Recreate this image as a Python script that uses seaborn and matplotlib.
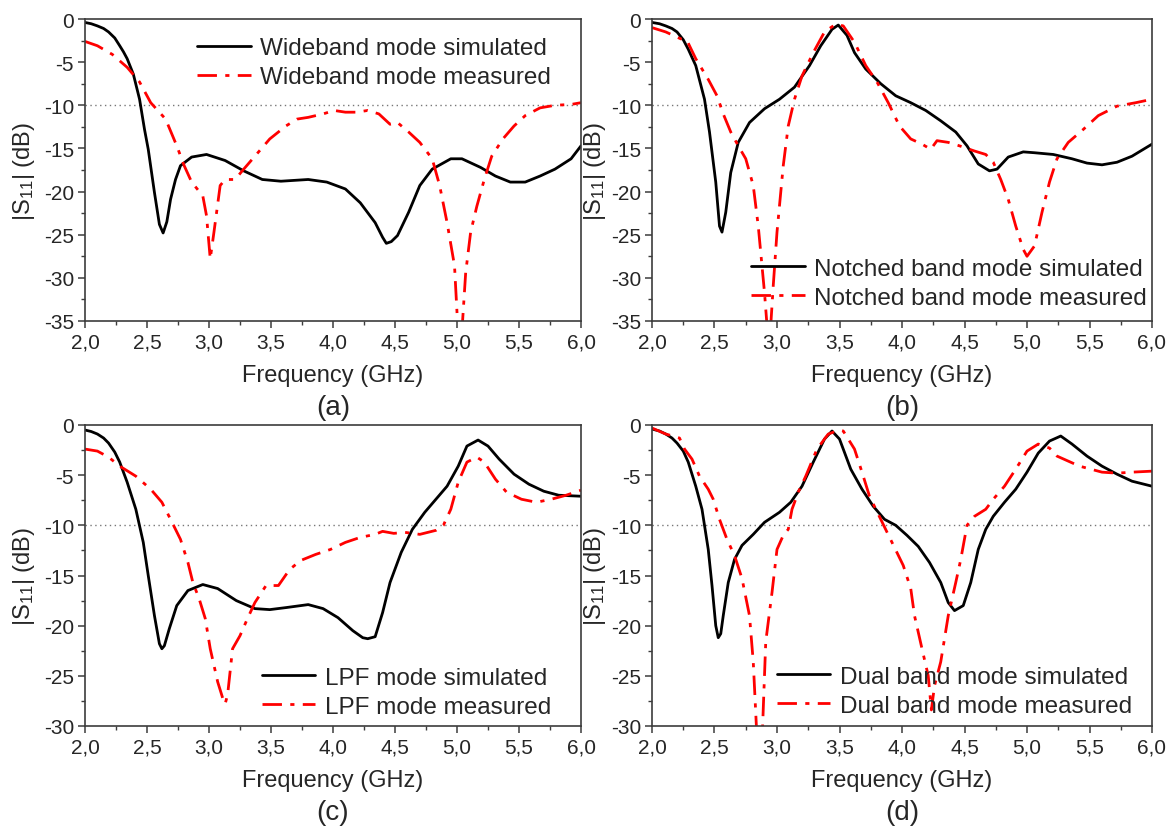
import matplotlib
matplotlib.use('Agg')
import matplotlib.pyplot as plt
import seaborn as sns
from matplotlib.ticker import MultipleLocator, FuncFormatter

# (a) Wideband mode
freq_a_sim = [2.00, 2.05, 2.10, 2.15, 2.19, 2.24, 2.28, 2.31, 2.34, 2.39, 2.44, 2.48, 2.51, 2.56, 2.60, 2.63, 2.66,
              2.69, 2.73, 2.77, 2.86, 2.98, 3.13, 3.28, 3.43, 3.58, 3.80, 3.95, 4.10, 4.22, 4.34, 4.40, 4.43, 4.47,
              4.52, 4.61, 4.70, 4.80, 4.95, 5.04, 5.19, 5.31, 5.43, 5.55, 5.67, 5.79, 5.92, 6.00]
s11_a_sim = [-0.4, -0.55, -0.8, -1.1, -1.5, -2.2, -3.1, -3.8, -4.6, -6.4, -9.3, -12.8, -15.1, -20.1, -23.8, -24.8,
             -23.5, -20.9, -18.6, -17.0, -16.0, -15.7, -16.4, -17.6, -18.6, -18.8, -18.6, -18.9, -19.7, -21.3, -23.6,
             -25.3, -26.0, -25.8, -25.1, -22.4, -19.3, -17.4, -16.2, -16.2, -17.2, -18.2, -18.9, -18.9, -18.2, -17.4,
             -16.2, -14.7]
freq_a_meas = [2.00, 2.10, 2.22, 2.34, 2.44, 2.53, 2.65, 2.74, 2.80, 2.86, 2.95, 2.98, 3.01, 3.04, 3.09, 3.13, 3.21,
               3.28, 3.37, 3.49, 3.62, 3.71, 3.80, 3.92, 4.01, 4.10, 4.19, 4.28, 4.37, 4.46, 4.52, 4.61, 4.70, 4.80,
               4.86, 4.92, 4.98, 5.00, 5.02, 5.045, 5.07, 5.11, 5.16, 5.22, 5.28, 5.37, 5.46, 5.55, 5.67, 5.79, 5.92,
               6.00]
s11_a_meas = [-2.6, -3.1, -4.1, -5.6, -7.3, -9.7, -11.6, -14.7, -17.0, -18.9, -20.5, -22.8, -27.8, -24.7, -19.3,
              -18.6, -18.6, -17.4, -15.9, -13.9, -12.4, -11.6, -11.4, -11.0, -10.6, -10.8, -10.8, -10.6, -11.0, -12.2,
              -12.0, -13.1, -14.3, -16.2, -19.3, -23.6, -28.6, -34.0, -38.0, -35.0, -29.4, -24.7, -21.7, -18.6, -15.9,
              -13.9, -12.4, -11.2, -10.3, -10.0, -9.9, -9.7]

# (b) Notched band mode
freq_b_sim = [2.00, 2.06, 2.11, 2.16, 2.20, 2.25, 2.29, 2.35, 2.42, 2.46, 2.51, 2.54, 2.56, 2.59, 2.63, 2.69, 2.78,
              2.90, 3.02, 3.14, 3.26, 3.35, 3.44, 3.49, 3.56, 3.62, 3.71, 3.83, 3.95, 4.07, 4.19, 4.31, 4.43, 4.52,
              4.61, 4.70, 4.76, 4.85, 4.97, 5.06, 5.21, 5.36, 5.48, 5.60, 5.72, 5.84, 6.00]
s11_b_sim = [-0.4, -0.55, -0.8, -1.1, -1.5, -2.4, -3.5, -5.4, -9.3, -13.1, -18.9, -24.0, -24.7, -22.4, -17.8, -14.3,
             -12.0, -10.4, -9.3, -7.9, -5.4, -3.1, -1.2, -0.7, -1.9, -3.9, -5.8, -7.5, -8.9, -9.7, -10.6, -11.8,
             -13.1, -14.7, -16.8, -17.6, -17.4, -16.0, -15.4, -15.5, -15.7, -16.2, -16.7, -16.9, -16.6, -15.9, -14.5]
freq_b_meas = [2.00, 2.11, 2.23, 2.28, 2.35, 2.45, 2.52, 2.57, 2.63, 2.69, 2.75, 2.81, 2.85, 2.90, 2.92, 2.935, 2.95,
               2.97, 3.00, 3.05, 3.09, 3.14, 3.20, 3.29, 3.38, 3.47, 3.53, 3.62, 3.71, 3.80, 3.89, 3.98, 4.07, 4.16,
               4.23, 4.28, 4.37, 4.46, 4.58, 4.67, 4.73, 4.79, 4.85, 4.91, 4.97, 5.00, 5.06, 5.12, 5.18, 5.24, 5.33,
               5.45, 5.57, 5.72, 5.87, 6.00]
s11_b_meas = [-1.0, -1.5, -2.3, -2.5, -4.6, -7.0, -8.9, -11.0, -13.1, -14.7, -16.2, -19.3, -24.0, -31.7, -35.5, -37.0,
              -35.5, -30.9, -24.7, -17.0, -12.4, -9.3, -6.6, -3.9, -1.5, -0.6, -0.8, -2.7, -5.4, -7.3, -9.7, -12.4,
              -13.9, -14.5, -15.1, -14.1, -14.3, -14.7, -15.3, -15.7, -16.6, -18.6, -20.9, -24.0, -26.7, -27.5, -26.3,
              -22.4, -18.9, -16.2, -14.3, -12.8, -11.2, -10.1, -9.7, -9.3]

# (c) LPF mode
freq_c_sim = [2.00, 2.05, 2.10, 2.15, 2.19, 2.24, 2.28, 2.34, 2.41, 2.47, 2.51, 2.56, 2.60, 2.62, 2.64, 2.68, 2.74,
              2.83, 2.95, 3.07, 3.22, 3.37, 3.49, 3.62, 3.80, 3.92, 4.04, 4.16, 4.24, 4.28, 4.34, 4.40, 4.46, 4.55,
              4.64, 4.74, 4.83, 4.92, 5.01, 5.08, 5.17, 5.25, 5.34, 5.46, 5.58, 5.70, 5.82, 6.00]
s11_c_sim = [-0.5, -0.65, -0.9, -1.3, -1.8, -2.7, -3.7, -5.7, -8.4, -11.7, -15.0, -19.0, -21.8, -22.3, -22.0, -20.3,
             -18.0, -16.5, -15.9, -16.3, -17.5, -18.3, -18.4, -18.2, -17.9, -18.3, -19.2, -20.5, -21.2, -21.3, -21.1,
             -18.7, -15.7, -12.7, -10.4, -8.7, -7.4, -6.1, -4.1, -2.1, -1.5, -2.1, -3.4, -4.9, -5.9, -6.6, -7.0, -7.1]
freq_c_meas = [2.00, 2.10, 2.19, 2.28, 2.41, 2.53, 2.62, 2.69, 2.77, 2.83, 2.87, 2.92, 2.97, 3.01, 3.07, 3.12, 3.13,
               3.15, 3.19, 3.25, 3.31, 3.37, 3.46, 3.56, 3.65, 3.74, 3.86, 3.98, 4.10, 4.22, 4.34, 4.40, 4.49, 4.58,
               4.70, 4.83, 4.89, 4.95, 5.01, 5.08, 5.16, 5.22, 5.31, 5.40, 5.52, 5.64, 5.76, 5.88, 6.00]
s11_c_meas = [-2.4, -2.6, -3.2, -4.1, -5.1, -6.4, -7.7, -9.4, -11.4, -13.7, -15.7, -17.3, -19.3, -22.3, -25.6, -27.6,
              -27.8, -26.9, -22.3, -21.0, -19.3, -17.7, -16.0, -16.0, -14.4, -13.5, -12.9, -12.4, -11.7, -11.2, -10.9,
              -10.6, -10.8, -10.7, -10.9, -10.5, -10.0, -8.4, -5.7, -3.7, -3.2, -3.7, -5.4, -6.7, -7.4, -7.7, -7.4,
              -7.0, -6.5]

# (d) Dual band mode
freq_d_sim = [2.00, 2.06, 2.11, 2.16, 2.20, 2.25, 2.29, 2.35, 2.40, 2.45, 2.48, 2.51, 2.53, 2.55, 2.57, 2.61, 2.66,
              2.72, 2.81, 2.90, 3.02, 3.11, 3.20, 3.29, 3.38, 3.44, 3.50, 3.59, 3.68, 3.77, 3.86, 3.95, 4.04, 4.13,
              4.22, 4.31, 4.37, 4.42, 4.49, 4.55, 4.61, 4.67, 4.73, 4.82, 4.91, 5.00, 5.09, 5.18, 5.27, 5.36, 5.48,
              5.60, 5.72, 5.84, 6.00]
s11_d_sim = [-0.4, -0.6, -0.9, -1.3, -1.8, -2.6, -3.7, -6.1, -8.4, -12.4, -16.0, -20.0, -21.2, -20.8, -19.0, -15.7,
             -13.4, -12.0, -10.9, -9.7, -8.7, -7.7, -6.1, -3.7, -1.4, -0.6, -1.4, -4.4, -6.4, -8.1, -9.4, -10.0,
             -11.0, -12.1, -13.7, -15.7, -17.7, -18.5, -18.0, -15.7, -12.4, -10.4, -9.1, -7.7, -6.4, -4.7, -2.8,
             -1.6, -1.1, -1.9, -3.1, -4.1, -4.9, -5.6, -6.1]
freq_d_meas = [2.00, 2.11, 2.22, 2.26, 2.32, 2.38, 2.45, 2.49, 2.54, 2.60, 2.66, 2.72, 2.78, 2.81, 2.835, 2.86, 2.885,
               2.91, 2.96, 3.00, 3.05, 3.09, 3.12, 3.17, 3.23, 3.32, 3.41, 3.50, 3.53, 3.62, 3.68, 3.74, 3.83, 3.92,
               4.01, 4.07, 4.10, 4.16, 4.21, 4.235, 4.26, 4.31, 4.37, 4.43, 4.47, 4.52, 4.58, 4.67, 4.73, 4.82, 4.91,
               5.00, 5.09, 5.18, 5.24, 5.33, 5.42, 5.51, 5.60, 5.72, 5.84, 6.00]
s11_d_meas = [-0.3, -0.9, -1.3, -2.4, -3.4, -5.1, -6.4, -7.4, -9.4, -11.4, -13.0, -15.3, -19.0, -23.6, -30.0, -33.0,
              -30.0, -21.6, -16.7, -12.4, -11.0, -10.4, -8.4, -6.7, -5.1, -2.4, -0.9, -0.5, -0.6, -2.4, -4.7, -7.1,
              -9.4, -11.7, -14.0, -16.3, -19.0, -22.3, -25.0, -28.4, -26.0, -23.6, -19.0, -15.7, -13.4, -10.0, -9.1,
              -8.4, -7.4, -6.1, -4.4, -2.6, -1.9, -2.3, -3.1, -3.6, -4.1, -4.4, -4.7, -4.8, -4.7, -4.6]

mode_names = ['Wideband mode', 'Notched band mode', 'LPF mode', 'Dual band mode']
panel_tags = ['(a)', '(b)', '(c)', '(d)']
y_bottoms = [-35, -35, -30, -30]

sns.set_style('ticks')
plt.rcParams['font.family'] = ['Liberation Sans', 'DejaVu Sans']
plt.rcParams['mathtext.default'] = 'regular'
plt.rcParams['axes.unicode_minus'] = False

fig = plt.figure(figsize=(11.72, 8.29), dpi=100)
# axes placed to match the reference grid (pixel-measured)
rects = [
    [85 / 1172, 1 - 322 / 829, 496 / 1172, 302 / 829],
    [652 / 1172, 1 - 322 / 829, 500 / 1172, 302 / 829],
    [85 / 1172, 1 - 727 / 829, 496 / 1172, 301 / 829],
    [652 / 1172, 1 - 727 / 829, 500 / 1172, 301 / 829],
]
data = [
    (freq_a_sim, s11_a_sim, freq_a_meas, s11_a_meas),
    (freq_b_sim, s11_b_sim, freq_b_meas, s11_b_meas),
    (freq_c_sim, s11_c_sim, freq_c_meas, s11_c_meas),
    (freq_d_sim, s11_d_sim, freq_d_meas, s11_d_meas),
]
legend_spots = [('upper right', (0.94, 0.94)), ('lower right', (0.99, 0.04)),
                ('lower right', (0.94, 0.027)), ('lower right', (0.96, 0.03))]
ylabel_x = [-0.097, -0.088, -0.097, -0.088]

frame_col = '#3c3c3c'
dashdot = (0, (7, 3, 1.5, 3))

for i, r in enumerate(rects):
    ax = fig.add_axes(r)
    fs, ss, fm, sm = data[i]
    ax.axhline(-10, color='#777777', lw=1.0, ls=(0, (1, 2.5)), zorder=1)
    sns.lineplot(x=fs, y=ss, ax=ax, color='black', lw=2.0, estimator=None, sort=False,
                 label=f'{mode_names[i]} simulated')
    sns.lineplot(x=fm, y=sm, ax=ax, color='#ff0000', lw=2.0, estimator=None, sort=False,
                 linestyle=dashdot, label=f'{mode_names[i]} measured')
    ax.set_xlim(2, 6)
    ax.set_ylim(y_bottoms[i], 0)
    ax.xaxis.set_major_locator(MultipleLocator(0.5))
    ax.xaxis.set_minor_locator(MultipleLocator(0.25))
    ax.yaxis.set_major_locator(MultipleLocator(5))
    ax.yaxis.set_minor_locator(MultipleLocator(2.5))
    ax.xaxis.set_major_formatter(FuncFormatter(lambda v, _: f'{v:.1f}'.replace('.', ',')))
    ax.yaxis.set_major_formatter(FuncFormatter(lambda v, _: f'{int(round(v))}'))
    ax.tick_params(which='major', direction='out', length=5, width=1.1, color=frame_col,
                   labelsize=15, pad=3)
    ax.tick_params(which='minor', direction='out', length=3, width=1.0, color=frame_col)
    ax.tick_params(top=False, right=False)
    for sp in ax.spines.values():
        sp.set_color(frame_col)
        sp.set_linewidth(1.2)
    ax.set_xlabel('Frequency (GHz)', fontsize=17)
    ax.set_ylabel('|S$_{11}$| (dB)', fontsize=17)
    ax.xaxis.set_label_coords(0.5, -0.143)
    ax.yaxis.set_label_coords(ylabel_x[i], 0.5)
    ax.text(0.5, -0.285, panel_tags[i], transform=ax.transAxes, ha='center', va='center', fontsize=20)
    loc, anchor = legend_spots[i]
    ax.legend(loc=loc, bbox_to_anchor=anchor, frameon=False, fontsize=17.5, handlelength=2.2,
              handletextpad=0.4, labelspacing=0.3, borderpad=0, borderaxespad=0)

fig.savefig('out.png', dpi=100)
